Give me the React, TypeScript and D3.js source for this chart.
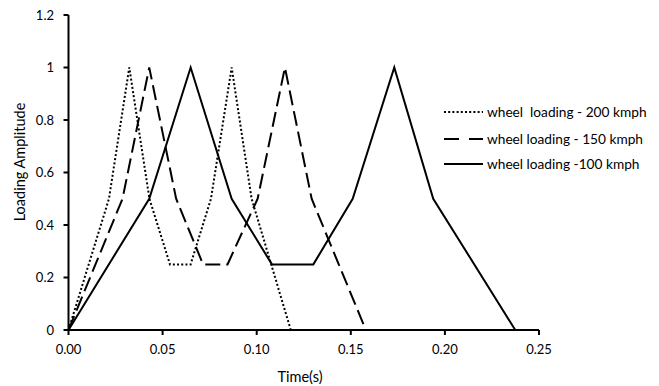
import React from "react";
import * as d3 from "d3";

const xTicks = [0, 0.05, 0.1, 0.15, 0.2, 0.25];
const yTicks = [0, 0.2, 0.4, 0.6, 0.8, 1, 1.2];

const time200 = [0, 0.0215, 0.0323, 0.043, 0.0539, 0.0649, 0.0757, 0.0867, 0.0973, 0.1181];
const load200 = [0, 0.5, 1, 0.5, 0.25, 0.25, 0.5, 1, 0.5, 0];

const time150 = [0, 0.0287, 0.0429, 0.0572, 0.0715, 0.0845, 0.1005, 0.115, 0.1292, 0.158];
const load150 = [0, 0.5, 1, 0.5, 0.25, 0.25, 0.5, 1, 0.5, 0];

const time100 = [0, 0.0429, 0.0649, 0.0867, 0.1081, 0.1301, 0.151, 0.1731, 0.1938, 0.2374];
const load100 = [0, 0.5, 1, 0.5, 0.25, 0.25, 0.5, 1, 0.5, 0];

const seriesNames = ["wheel  loading - 200 kmph", "wheel loading - 150 kmph", "wheel loading -100 kmph"];

const W = 659;
const H = 386;
const left = 68.5;
const right = 539;
const top = 15;
const bottom = 330;
const font = "Lato, 'Open Sans', sans-serif";

export default function App() {
  const x = d3.scaleLinear().domain([0, 0.25]).range([left, right]);
  const y = d3.scaleLinear().domain([0, 1.2]).range([bottom, top]);
  const line = d3
    .line<[number, number]>()
    .x((d) => x(d[0]))
    .y((d) => y(d[1]));

  const series = [
    { t: time200, v: load200, dash: "2,2.2", name: seriesNames[0] },
    { t: time150, v: load150, dash: "15,6", name: seriesNames[1] },
    { t: time100, v: load100, dash: null, name: seriesNames[2] },
  ];

  const legendY = [112, 139, 164];

  return (
    <svg
      width={W}
      height={H}
      style={{ position: "absolute", left: 0, top: 0, background: "#fff" }}
    >
      <rect x={0} y={0} width={W} height={H} fill="#fff" />
      {series.map((s, i) => (
        <path
          key={i}
          d={line(s.t.map((t, j) => [t, s.v[j]] as [number, number])) || ""}
          fill="none"
          stroke="#000"
          strokeWidth={2}
          strokeDasharray={s.dash || undefined}
          strokeLinejoin="miter"
        />
      ))}
      <line x1={left} x2={left} y1={y(1.2)} y2={bottom} stroke="#000" strokeWidth={2} />
      <line x1={left - 1} x2={right} y1={bottom} y2={bottom} stroke="#000" strokeWidth={2} />
      {yTicks.map((t) => (
        <g key={"y" + t}>
          <line x1={left - 5} x2={left} y1={y(t)} y2={y(t)} stroke="#000" strokeWidth={2} />
          <text
            x={54}
            y={y(t)}
            dy="0.35em"
            textAnchor="end"
            fontFamily={font}
            fontSize={13}
            fill="#000"
          >
            {t === 0 || t === 1 ? String(t) : t.toFixed(1)}
          </text>
        </g>
      ))}
      {xTicks.map((t) => (
        <g key={"x" + t}>
          <line x1={x(t)} x2={x(t)} y1={bottom} y2={bottom + 5} stroke="#000" strokeWidth={2} />
          <text
            x={x(t)}
            y={354}
            textAnchor="middle"
            fontFamily={font}
            fontSize={13}
            fill="#000"
          >
            {t.toFixed(2)}
          </text>
        </g>
      ))}
      <text
        x={300}
        y={381.5}
        textAnchor="middle"
        fontFamily={font}
        fontSize={14.5}
        fill="#000"
      >
        Time(s)
      </text>
      <text
        transform={`translate(25, 162) rotate(-90)`}
        textAnchor="middle"
        fontFamily={font}
        fontSize={14.5}
        fill="#000"
      >
        Loading Amplitude
      </text>
      {series.map((s, i) => (
        <g key={"l" + i}>
          <line
            x1={444}
            x2={483}
            y1={legendY[i]}
            y2={legendY[i]}
            stroke="#000"
            strokeWidth={2}
            strokeDasharray={s.dash ? (i === 1 ? "15,10" : s.dash) : undefined}
          />
          <text
            x={487}
            y={legendY[i]}
            dy="0.35em"
            fontFamily={font}
            fontSize={13.7}
            fill="#000"
            style={{ whiteSpace: "pre" }}
          >
            {s.name}
          </text>
        </g>
      ))}
    </svg>
  );
}
